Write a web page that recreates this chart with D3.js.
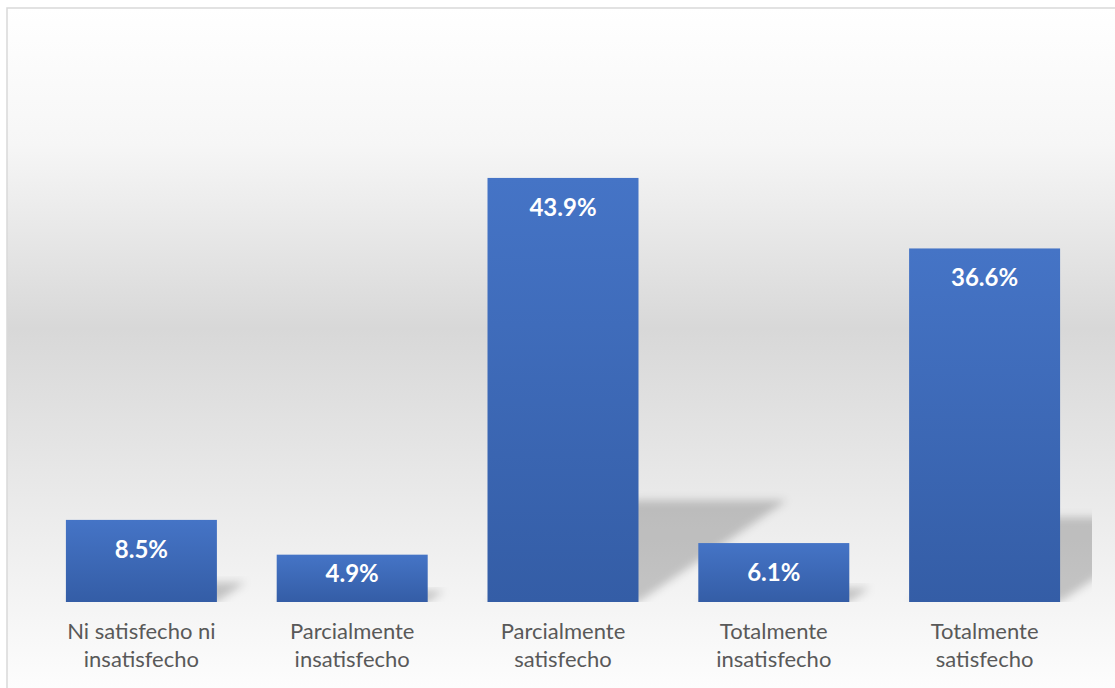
<!DOCTYPE html>
<html>
<head>
<meta charset="utf-8">
<script src="https://cdn.jsdelivr.net/npm/d3@7"></script>
<style>
  html, body { margin: 0; padding: 0; background: #ffffff; }
  svg { display: block; }
</style>
</head>
<body>
<svg id="chart" width="1115" height="688"></svg>
<script>
// Satisfaction survey results (percent of respondents)
const categories = [
  ["Ni satisfecho ni", "insatisfecho"],
  ["Parcialmente", "insatisfecho"],
  ["Parcialmente", "satisfecho"],
  ["Totalmente", "insatisfecho"],
  ["Totalmente", "satisfecho"]
];
const values = [8.5, 4.9, 43.9, 6.1, 36.6];
const valueLabels = ["8.5%", "4.9%", "43.9%", "6.1%", "36.6%"];

const W = 1115, H = 688;
const svg = d3.select("#chart");
const defs = svg.append("defs");

// Chart area background: light at top and bottom, grey in the middle
const bg = defs.append("linearGradient").attr("id", "bgGrad")
  .attr("gradientUnits", "userSpaceOnUse")
  .attr("x1", 0).attr("y1", 8).attr("x2", 0).attr("y2", 690);
[[0, "#ffffff"], [0.2, "#f6f6f6"], [0.47, "#d8d8d8"], [0.75, "#ececec"], [1, "#fdfdfd"]]
  .forEach(([o, c]) => bg.append("stop").attr("offset", o).attr("stop-color", c));

// Bar fill: lighter blue at top, darker at bottom
const barGrad = defs.append("linearGradient").attr("id", "barGrad")
  .attr("x1", 0).attr("y1", 0).attr("x2", 0).attr("y2", 1);
barGrad.append("stop").attr("offset", 0).attr("stop-color", "#4574c6");
barGrad.append("stop").attr("offset", 1).attr("stop-color", "#345da6");

// Soft blur for the perspective shadows
const blur = defs.append("filter").attr("id", "shadowBlur")
  .attr("x", "-30%").attr("y", "-30%").attr("width", "160%").attr("height", "160%");
blur.append("feGaussianBlur").attr("stdDeviation", 4);

const x = d3.scaleBand()
  .domain(d3.range(values.length))
  .range([36, 1090])
  .paddingInner(0.2837)
  .paddingOuter(0.14185);

const y = d3.scaleLinear().domain([0, 50]).range([602, 119]);

defs.append("clipPath").attr("id", "plotClip")
  .append("rect").attr("x", 20).attr("y", 10).attr("width", 1072).attr("height", y(0) - 10);

// Background + border (frame continues past the right and bottom edges)
svg.append("rect")
  .attr("x", 7).attr("y", 8).attr("width", W + 10).attr("height", H + 10)
  .attr("fill", "url(#bgGrad)")
  .attr("stroke", "#d9d9d9").attr("stroke-width", 1.5);

// Perspective shadows cast up and to the right of each bar
const shadowG = svg.append("g").attr("clip-path", "url(#plotClip)");
shadowG.selectAll("path")
  .data(values)
  .join("path")
  .attr("d", (d, i) => {
    const x0 = x(i), x1 = x(i) + x.bandwidth();
    const b = y(0), h = b - y(d);
    const sh = h * 0.24, dx = h * 0.35;
    return `M${x0},${b} L${x1},${b} L${x1 + dx},${b - sh} L${x0 + dx},${b - sh} Z`;
  })
  .attr("fill", "#000")
  .attr("fill-opacity", 0.2)
  .attr("filter", "url(#shadowBlur)");

// Bars
svg.append("g").selectAll("rect")
  .data(values)
  .join("rect")
  .attr("x", (d, i) => x(i))
  .attr("y", d => y(d))
  .attr("width", x.bandwidth())
  .attr("height", d => y(0) - y(d))
  .attr("fill", "url(#barGrad)");

// Value labels inside the top of each bar (kept clear of the baseline on short bars)
svg.append("g").selectAll("text")
  .data(values)
  .join("text")
  .attr("x", (d, i) => x(i) + x.bandwidth() / 2)
  .attr("y", d => Math.min(y(d) + 38, y(0) - 20))
  .attr("text-anchor", "middle")
  .attr("font-family", "Lato, 'Open Sans', sans-serif")
  .attr("font-weight", 700)
  .attr("font-size", 24)
  .attr("fill", "#ffffff")
  .text((d, i) => valueLabels[i]);

// Category labels (two lines each)
const cat = svg.append("g").selectAll("text")
  .data(categories)
  .join("text")
  .attr("text-anchor", "middle")
  .attr("font-family", "Lato, 'Open Sans', sans-serif")
  .attr("font-size", 22)
  .attr("fill", "#595959");
cat.selectAll("tspan")
  .data((d, i) => d.map((line, k) => ({ line, k, i })))
  .join("tspan")
  .attr("x", d => x(d.i) + x.bandwidth() / 2)
  .attr("y", d => 639 + d.k * 28)
  .text(d => d.line);
</script>
</body>
</html>
